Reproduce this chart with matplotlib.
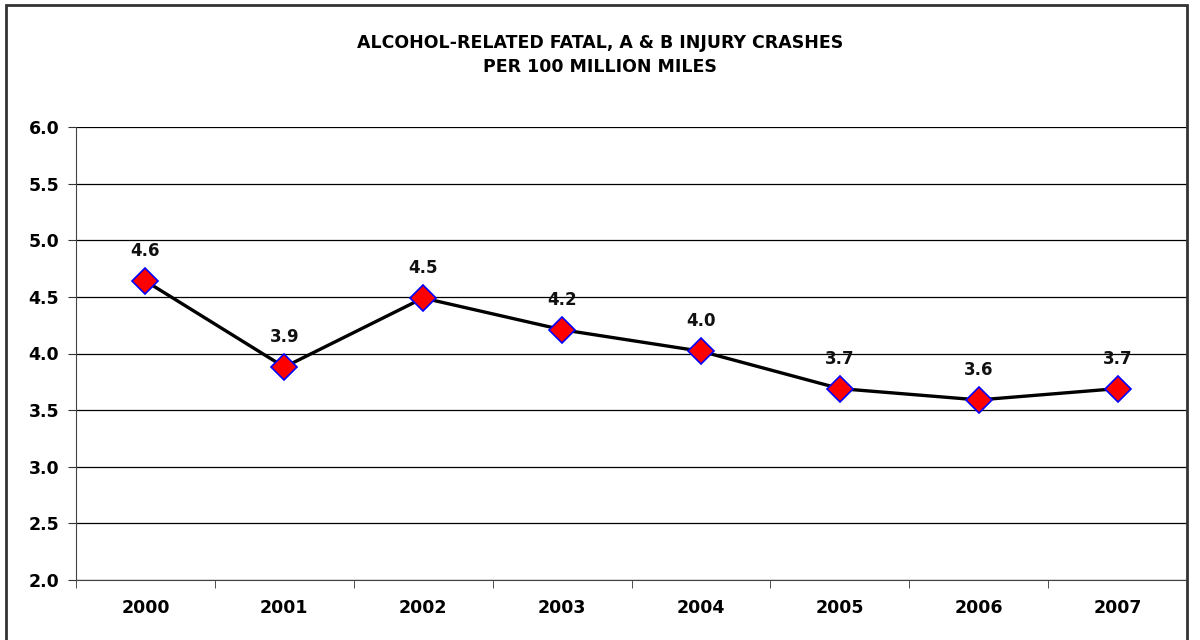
import matplotlib
matplotlib.use("Agg")
import matplotlib.pyplot as plt
from matplotlib.patches import Rectangle

years = ['2000', '2001', '2002', '2003', '2004', '2005', '2006', '2007']
rates = [4.64, 3.88, 4.49, 4.21, 4.02, 3.69, 3.59, 3.69]
y_ticks = [2.0, 2.5, 3.0, 3.5, 4.0, 4.5, 5.0, 5.5, 6.0]

plt.rcParams['font.family'] = ['DejaVu Sans']

fig = plt.figure(figsize=(12, 6.4), dpi=100)
ax = fig.add_axes([76 / 1200, 1 - 580 / 640, (1187 - 76) / 1200, (580 - 127) / 640])

x = list(range(len(years)))
ax.plot(x, rates, color='black', lw=2.4, marker='D', markersize=13,
        markerfacecolor='red', markeredgecolor='blue', markeredgewidth=1.2, zorder=3)
for xi, v in zip(x, rates):
    ax.annotate('%.1f' % v, (xi, v), xytext=(0, 15), textcoords='offset points',
                ha='center', va='bottom', fontsize=12, fontweight='bold', color='#111111')

ax.set_xlim(-0.5, len(years) - 0.5)
ax.set_ylim(2.0, 6.0)
ax.set_yticks(y_ticks)
ax.set_yticklabels(['%.1f' % t for t in y_ticks], fontsize=12.5, fontweight='bold')
ax.set_xticks(x)
ax.set_xticklabels(years, fontsize=12.5, fontweight='bold')
ax.set_xticks([i + 0.5 for i in range(-1, len(years))], minor=True)
ax.tick_params(axis='x', which='major', length=0, pad=14)
ax.tick_params(axis='x', which='minor', length=6, direction='out', color='#333333')
ax.tick_params(axis='y', length=6, direction='out', color='#333333', pad=6)
ax.grid(axis='y', color='black', lw=0.9)
ax.set_axisbelow(True)
ax.spines['top'].set_visible(False)
ax.spines['right'].set_color('#999999')
ax.spines['left'].set_color('#444444')
ax.spines['bottom'].set_color('#444444')

fig.text(0.5, 1 - 55 / 640, 'ALCOHOL-RELATED FATAL, A & B INJURY CRASHES\nPER 100 MILLION MILES',
         ha='center', va='center', fontsize=12.5, fontweight='bold', linespacing=1.5)

fig.patches.append(Rectangle((6 / 1200, -0.1), (1187 - 6) / 1200, 1.1 - 5 / 640,
                             transform=fig.transFigure, fill=False, edgecolor='#333333', lw=2))

fig.savefig('out.png', dpi=100)
